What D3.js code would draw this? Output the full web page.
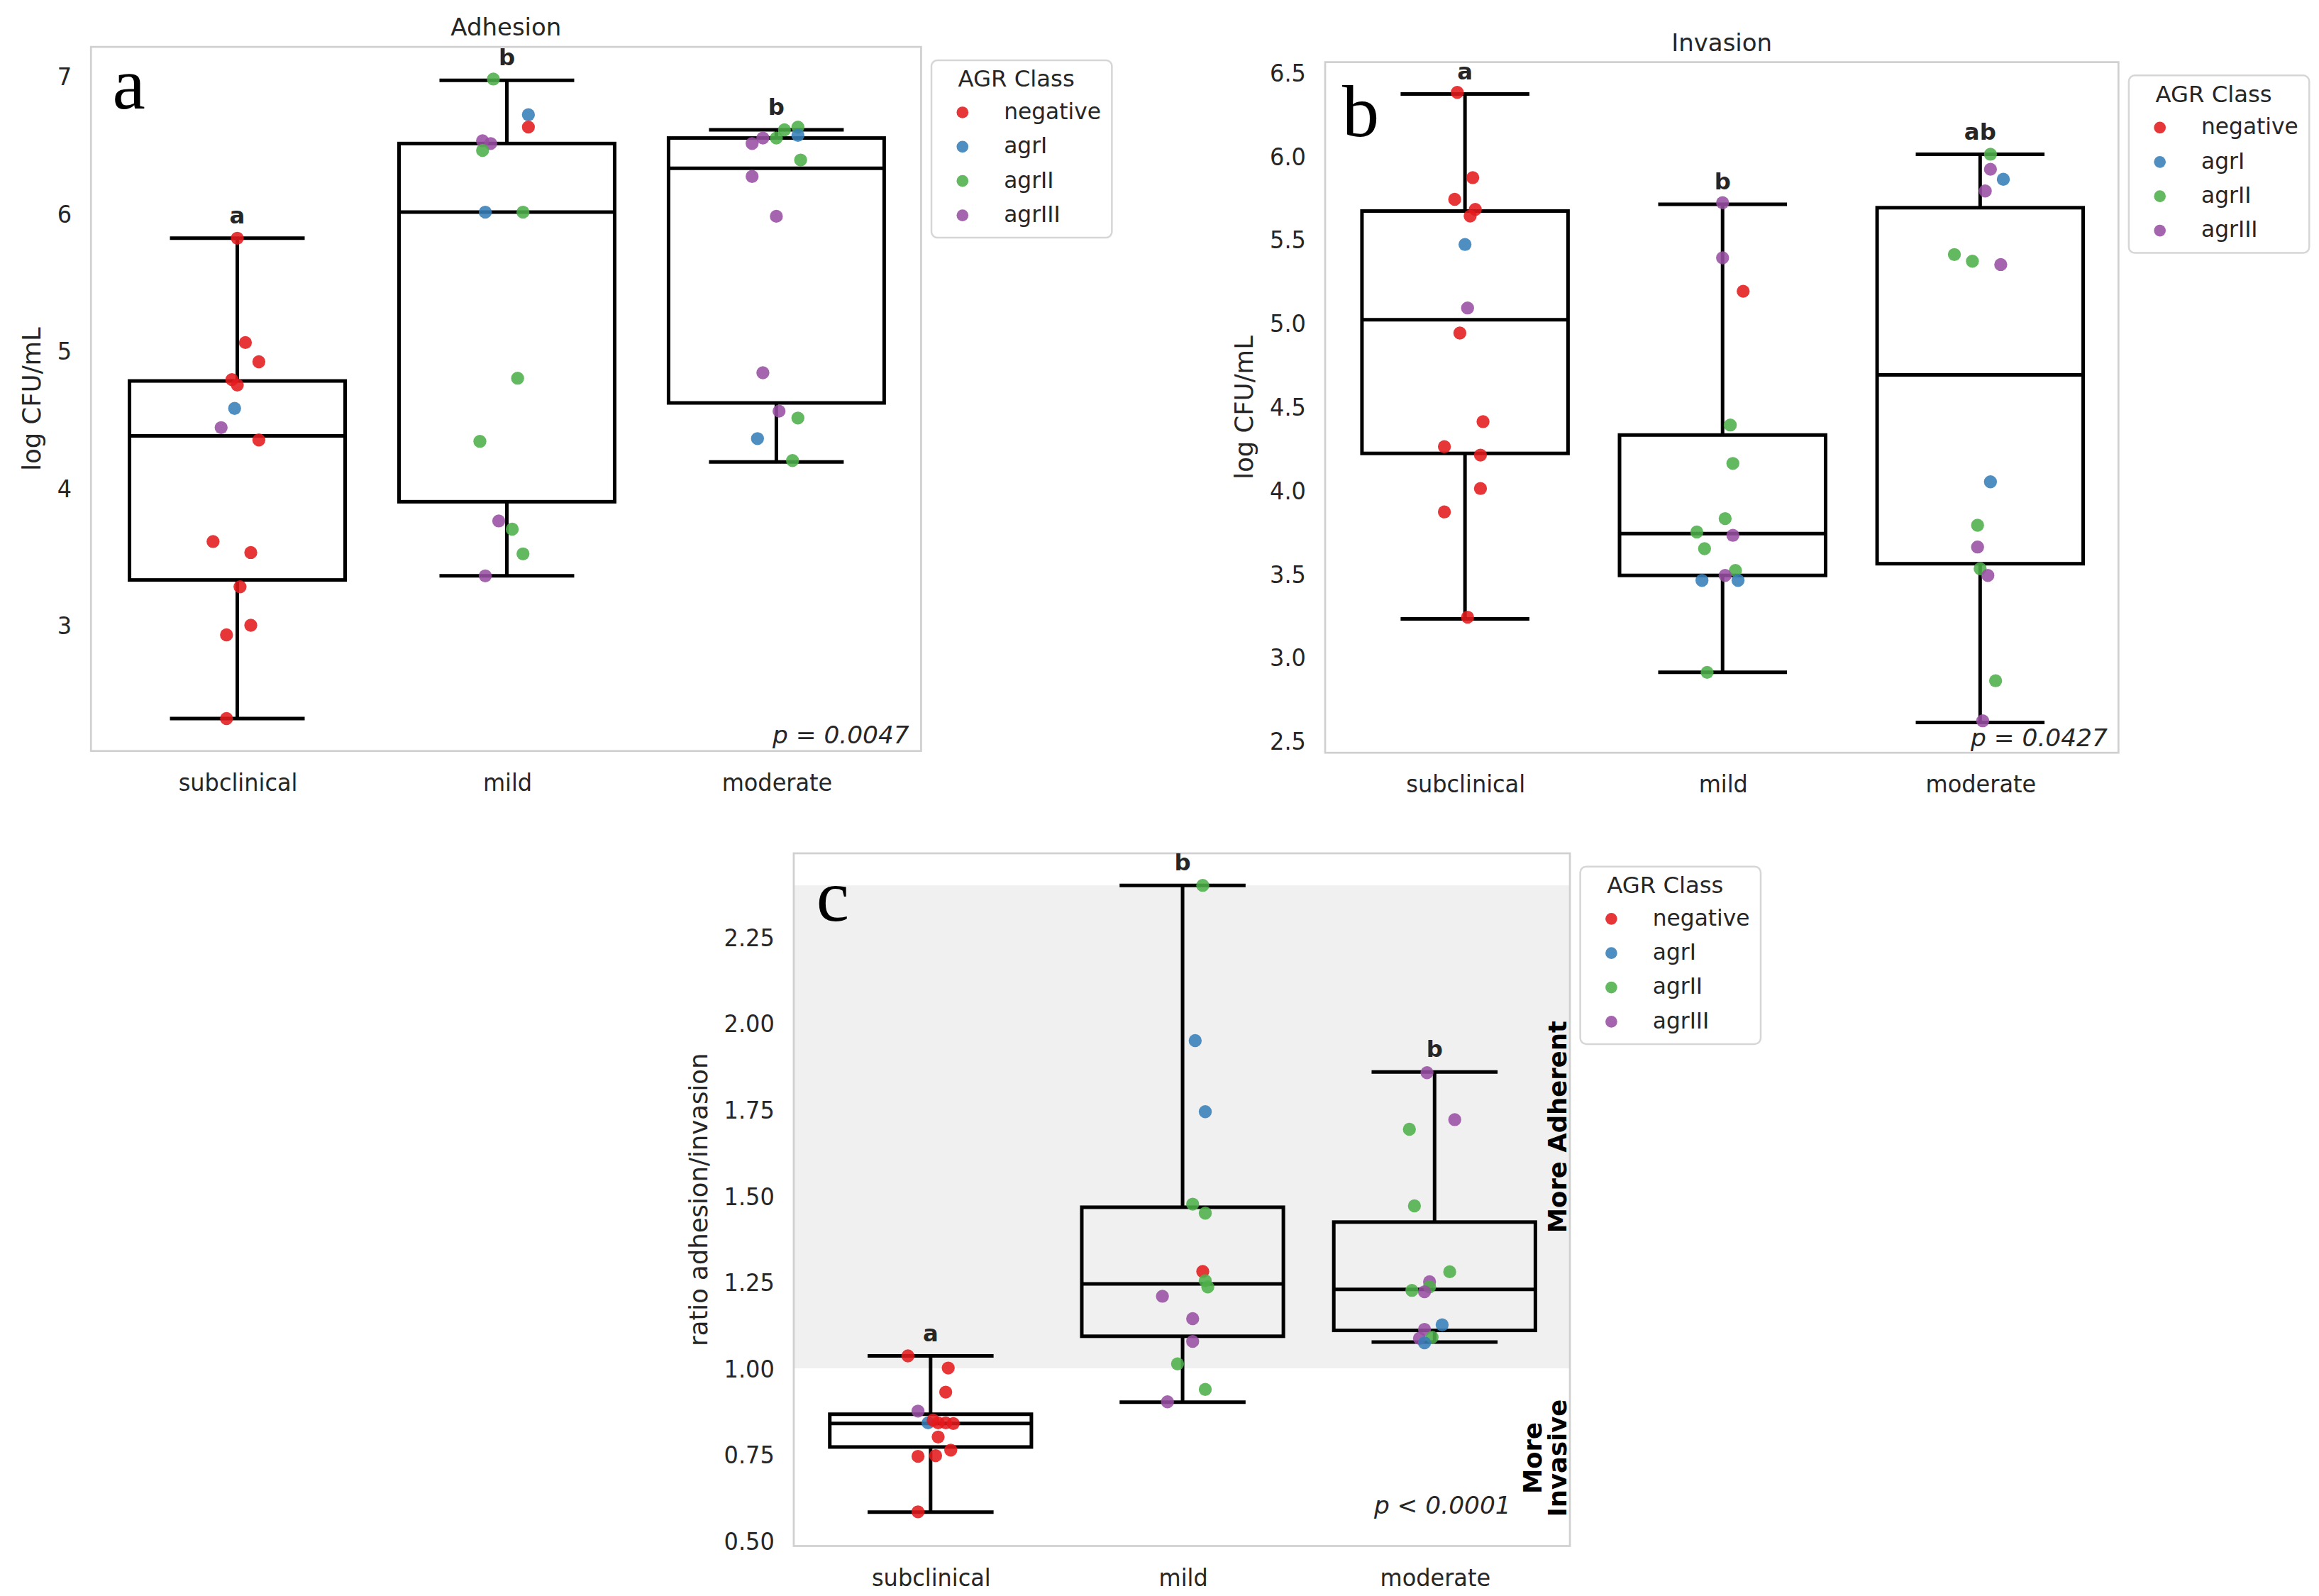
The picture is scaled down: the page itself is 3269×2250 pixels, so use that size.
<!DOCTYPE html>
<html>
<head>
<meta charset="utf-8">
<script src="https://cdn.jsdelivr.net/npm/d3@7"></script>
<style>
  body { margin: 0; background: #fff; }
</style>
</head>
<body>
<div id="chart"></div>
<script>
const categories = ["subclinical", "mild", "moderate"];
const agrClasses = ["negative", "agrI", "agrII", "agrIII"];
const agrColors = ["#e41a1c", "#377eb8", "#4daf4a", "#984ea3"];

// box stats per category: [low whisker, q1, median, q3, high whisker]
const adhesionBoxes = [[2.32, 3.33, 4.38, 4.78, 5.82], [3.36, 3.90, 6.01, 6.51, 6.97], [4.19, 4.62, 6.33, 6.55, 6.61]];
const invasionBoxes = [[3.23, 4.22, 5.02, 5.67, 6.37], [2.91, 3.49, 3.74, 4.33, 5.71], [2.61, 3.56, 4.69, 5.69, 6.01]];
const ratioBoxes = [[0.583, 0.772, 0.840, 0.867, 1.036], [0.902, 1.093, 1.245, 1.467, 2.40], [1.076, 1.110, 1.229, 1.424, 1.859]];

const adhesionTicks = [3, 4, 5, 6, 7];
const invasionTicks = [2.5, 3.0, 3.5, 4.0, 4.5, 5.0, 5.5, 6.0, 6.5];
const ratioTicks = [0.50, 0.75, 1.00, 1.25, 1.50, 1.75, 2.00, 2.25];

const adhesionLetters = ["a", "b", "b"];
const invasionLetters = ["a", "b", "ab"];
const ratioLetters = ["a", "b", "b"];

// band between ratio 1.0 and the top whisker ("more adherent" zone)
const ratioShade = [1.0, 2.40];

// [category, AGR class, value, jitter]
const adhesionPoints = [
  ["subclinical", "negative", 5.82, 0.00],
  ["subclinical", "negative", 5.06, 0.03],
  ["subclinical", "negative", 4.92, 0.08],
  ["subclinical", "negative", 4.79, -0.02],
  ["subclinical", "negative", 4.75, 0.00],
  ["subclinical", "agrI", 4.58, -0.01],
  ["subclinical", "agrIII", 4.44, -0.06],
  ["subclinical", "negative", 4.35, 0.08],
  ["subclinical", "negative", 3.61, -0.09],
  ["subclinical", "negative", 3.53, 0.05],
  ["subclinical", "negative", 3.28, 0.01],
  ["subclinical", "negative", 3.00, 0.05],
  ["subclinical", "negative", 2.93, -0.04],
  ["subclinical", "negative", 2.32, -0.04],
  ["mild", "agrII", 6.98, -0.05],
  ["mild", "agrI", 6.72, 0.08],
  ["mild", "negative", 6.63, 0.08],
  ["mild", "agrIII", 6.53, -0.09],
  ["mild", "agrIII", 6.51, -0.06],
  ["mild", "agrII", 6.46, -0.09],
  ["mild", "agrI", 6.01, -0.08],
  ["mild", "agrII", 6.01, 0.06],
  ["mild", "agrII", 4.80, 0.04],
  ["mild", "agrII", 4.34, -0.10],
  ["mild", "agrIII", 3.76, -0.03],
  ["mild", "agrII", 3.70, 0.02],
  ["mild", "agrII", 3.52, 0.06],
  ["mild", "agrIII", 3.36, -0.08],
  ["moderate", "agrII", 6.63, 0.08],
  ["moderate", "agrII", 6.61, 0.03],
  ["moderate", "agrIII", 6.51, -0.09],
  ["moderate", "agrIII", 6.55, -0.05],
  ["moderate", "agrII", 6.55, 0.00],
  ["moderate", "agrI", 6.57, 0.08],
  ["moderate", "agrII", 6.39, 0.09],
  ["moderate", "agrIII", 6.27, -0.09],
  ["moderate", "agrIII", 5.98, 0.00],
  ["moderate", "agrIII", 4.84, -0.05],
  ["moderate", "agrIII", 4.56, 0.01],
  ["moderate", "agrII", 4.51, 0.08],
  ["moderate", "agrI", 4.36, -0.07],
  ["moderate", "agrII", 4.20, 0.06]
];

const invasionPoints = [
  ["subclinical", "negative", 6.38, -0.03],
  ["subclinical", "negative", 5.87, 0.03],
  ["subclinical", "negative", 5.74, -0.04],
  ["subclinical", "negative", 5.68, 0.04],
  ["subclinical", "negative", 5.64, 0.02],
  ["subclinical", "agrI", 5.47, 0.00],
  ["subclinical", "agrIII", 5.09, 0.01],
  ["subclinical", "negative", 4.94, -0.02],
  ["subclinical", "negative", 4.41, 0.07],
  ["subclinical", "negative", 4.26, -0.08],
  ["subclinical", "negative", 4.21, 0.06],
  ["subclinical", "negative", 4.01, 0.06],
  ["subclinical", "negative", 3.87, -0.08],
  ["subclinical", "negative", 3.24, 0.01],
  ["mild", "agrIII", 5.72, 0.00],
  ["mild", "agrIII", 5.39, 0.00],
  ["mild", "negative", 5.19, 0.08],
  ["mild", "agrII", 4.39, 0.03],
  ["mild", "agrII", 4.16, 0.04],
  ["mild", "agrII", 3.83, 0.01],
  ["mild", "agrII", 3.75, -0.10],
  ["mild", "agrIII", 3.73, 0.04],
  ["mild", "agrII", 3.65, -0.07],
  ["mild", "agrII", 3.52, 0.05],
  ["mild", "agrIII", 3.49, 0.01],
  ["mild", "agrI", 3.46, -0.08],
  ["mild", "agrI", 3.46, 0.06],
  ["mild", "agrII", 2.91, -0.06],
  ["moderate", "agrII", 6.01, 0.04],
  ["moderate", "agrIII", 5.92, 0.04],
  ["moderate", "agrI", 5.86, 0.09],
  ["moderate", "agrIII", 5.79, 0.02],
  ["moderate", "agrII", 5.41, -0.10],
  ["moderate", "agrII", 5.37, -0.03],
  ["moderate", "agrIII", 5.35, 0.08],
  ["moderate", "agrI", 4.05, 0.04],
  ["moderate", "agrII", 3.79, -0.01],
  ["moderate", "agrIII", 3.66, -0.01],
  ["moderate", "agrII", 3.53, 0.00],
  ["moderate", "agrIII", 3.49, 0.03],
  ["moderate", "agrII", 2.86, 0.06],
  ["moderate", "agrIII", 2.62, 0.01]
];

const ratioPoints = [
  ["subclinical", "negative", 1.036, -0.09],
  ["subclinical", "negative", 1.001, 0.07],
  ["subclinical", "negative", 0.931, 0.06],
  ["subclinical", "agrIII", 0.876, -0.05],
  ["subclinical", "agrI", 0.842, -0.01],
  ["subclinical", "negative", 0.850, 0.01],
  ["subclinical", "negative", 0.842, 0.03],
  ["subclinical", "negative", 0.842, 0.06],
  ["subclinical", "negative", 0.840, 0.09],
  ["subclinical", "negative", 0.801, 0.03],
  ["subclinical", "negative", 0.763, 0.08],
  ["subclinical", "negative", 0.745, -0.05],
  ["subclinical", "negative", 0.747, 0.02],
  ["subclinical", "negative", 0.584, -0.05],
  ["mild", "agrII", 2.40, 0.08],
  ["mild", "agrI", 1.95, 0.05],
  ["mild", "agrI", 1.744, 0.09],
  ["mild", "agrII", 1.476, 0.04],
  ["mild", "agrII", 1.45, 0.09],
  ["mild", "negative", 1.281, 0.08],
  ["mild", "agrII", 1.254, 0.09],
  ["mild", "agrII", 1.236, 0.10],
  ["mild", "agrIII", 1.209, -0.08],
  ["mild", "agrIII", 1.144, 0.04],
  ["mild", "agrIII", 1.078, 0.04],
  ["mild", "agrII", 1.013, -0.02],
  ["mild", "agrII", 0.939, 0.09],
  ["mild", "agrIII", 0.903, -0.06],
  ["moderate", "agrIII", 1.857, -0.03],
  ["moderate", "agrIII", 1.721, 0.08],
  ["moderate", "agrII", 1.693, -0.10],
  ["moderate", "agrII", 1.471, -0.08],
  ["moderate", "agrII", 1.280, 0.06],
  ["moderate", "agrIII", 1.251, -0.02],
  ["moderate", "agrII", 1.226, -0.09],
  ["moderate", "agrII", 1.236, -0.02],
  ["moderate", "agrIII", 1.222, -0.04],
  ["moderate", "agrI", 1.126, 0.03],
  ["moderate", "agrIII", 1.113, -0.04],
  ["moderate", "agrIII", 1.087, -0.06],
  ["moderate", "agrII", 1.090, -0.01],
  ["moderate", "agrI", 1.074, -0.04]
];

const W = 1568, H = 1079.2;
const svg = d3.select("#chart").append("svg")
  .attr("width", 3269)
  .attr("height", 2250)
  .attr("viewBox", `0 0 ${W} ${H}`)
  .style("font-family", "'DejaVu Sans', sans-serif");

const color = d3.scaleOrdinal().domain(agrClasses).range(agrColors);
const ink = "#262626";
const tickSX = 0.93; // tick labels in the figure are slightly squeezed

function drawPanel(p) {
  const x = d3.scaleLinear().domain([-0.543, 2.537]).range([p.left, p.right]);
  const y = d3.scaleLinear().domain(p.yDomain).range([p.bottom, p.top]);
  const g = svg.append("g");

  if (p.shade) {
    g.append("rect")
      .attr("x", p.left).attr("width", p.right - p.left)
      .attr("y", y(p.shade[1])).attr("height", y(p.shade[0]) - y(p.shade[1]))
      .attr("fill", "#f0f0f0");
  }

  g.append("rect")
    .attr("x", p.left).attr("y", p.top)
    .attr("width", p.right - p.left).attr("height", p.bottom - p.top)
    .attr("fill", "none").attr("stroke", "#d0d0d0").attr("stroke-width", 1.3);

  // axes (no tick marks, seaborn style)
  const yAxis = g.append("g")
    .attr("transform", `translate(${p.left},0)`)
    .call(d3.axisLeft(y).tickValues(p.ticks).tickFormat(d3.format(p.fmt)).tickSize(0))
    .attr("font-family", "DejaVu Sans");
  yAxis.select(".domain").remove();
  yAxis.selectAll("text")
    .attr("font-size", 16.5).attr("fill", ink)
    .attr("x", -13 / tickSX).attr("dy", "0.34em")
    .attr("transform", `scale(${tickSX},1)`);

  const xAxis = g.append("g")
    .attr("transform", `translate(0,${p.bottom})`)
    .call(d3.axisBottom(x).tickValues([0, 1, 2]).tickFormat(i => categories[i]).tickSize(0))
    .attr("font-family", "DejaVu Sans");
  xAxis.select(".domain").remove();
  xAxis.selectAll("text")
    .attr("font-size", 16.5).attr("fill", ink)
    .attr("y", 27).attr("dy", 0)
    .attr("transform", `scale(${tickSX},1)`);

  let maxW = 0;
  yAxis.selectAll("text").each(function () { maxW = Math.max(maxW, this.getComputedTextLength() * tickSX); });
  const labelX = p.left - 13 - maxW - 11.5;
  g.append("text")
    .attr("transform", `translate(${labelX},${(p.top + p.bottom) / 2}) rotate(-90)`)
    .attr("text-anchor", "middle")
    .attr("font-size", 17).attr("fill", ink)
    .text(p.yLabel);

  if (p.title) {
    g.append("text")
      .attr("x", (p.left + p.right) / 2).attr("y", p.top - 7.7)
      .attr("text-anchor", "middle").attr("font-size", 16.3).attr("fill", ink)
      .text(p.title);
  }

  // boxes
  const boxW = 0.8, capW = 0.5;
  p.boxes.forEach((b, i) => {
    const [lo, q1, med, q3, hi] = b;
    const bg = g.append("g").attr("stroke", "#000").attr("stroke-width", 2.4).attr("fill", "none");
    bg.append("rect")
      .attr("x", x(i - boxW / 2)).attr("width", x(i + boxW / 2) - x(i - boxW / 2))
      .attr("y", y(q3)).attr("height", y(q1) - y(q3));
    bg.append("line").attr("x1", x(i - boxW / 2)).attr("x2", x(i + boxW / 2))
      .attr("y1", y(med)).attr("y2", y(med));
    bg.append("line").attr("x1", x(i)).attr("x2", x(i)).attr("y1", y(q3)).attr("y2", y(hi));
    bg.append("line").attr("x1", x(i)).attr("x2", x(i)).attr("y1", y(q1)).attr("y2", y(lo));
    bg.append("line").attr("x1", x(i - capW / 2)).attr("x2", x(i + capW / 2)).attr("y1", y(hi)).attr("y2", y(hi));
    bg.append("line").attr("x1", x(i - capW / 2)).attr("x2", x(i + capW / 2)).attr("y1", y(lo)).attr("y2", y(lo));

    g.append("text")
      .attr("x", x(i)).attr("y", y(hi) - 10)
      .attr("text-anchor", "middle").attr("font-size", 15.5).attr("font-weight", "bold")
      .attr("fill", ink)
      .text(p.letters[i]);
  });

  // jittered points
  g.append("g").selectAll("circle")
    .data(p.points)
    .join("circle")
    .attr("cx", d => x(categories.indexOf(d[0]) + d[3]))
    .attr("cy", d => y(d[2]))
    .attr("r", 4.4)
    .attr("fill", d => color(d[1]))
    .attr("fill-opacity", 0.88);

  // p-value
  g.append("text")
    .attr("x", p.right - p.pOffset[0]).attr("y", p.bottom - p.pOffset[1])
    .attr("text-anchor", "end").attr("font-size", 16.5).attr("font-style", "italic")
    .attr("fill", ink)
    .text(p.pText);

  // panel letter
  g.append("text")
    .attr("x", p.tag[0]).attr("y", p.tag[1])
    .style("font-family", "'Liberation Serif', serif")
    .attr("font-size", 50).attr("fill", "#000")
    .text(p.tagText);

  // legend
  const lg = g.append("g").attr("transform", `translate(${p.right + 7},${p.top + 9})`);
  lg.append("rect")
    .attr("width", 122).attr("height", 120).attr("rx", 4)
    .attr("fill", "#fff").attr("stroke", "#d6d6d6").attr("stroke-width", 1.2);
  lg.append("text").attr("x", 18).attr("y", 18)
    .attr("font-size", 15.5).attr("fill", ink).text("AGR Class");
  agrClasses.forEach((c, i) => {
    const by = 39.8 + i * 23.2;
    lg.append("circle").attr("cx", 21).attr("cy", by - 4.5).attr("r", 4)
      .attr("fill", color(c)).attr("fill-opacity", 0.88);
    lg.append("text").attr("x", 49).attr("y", by)
      .attr("font-size", 15).attr("fill", ink).text(c);
  });

  return { x, y, g };
}

drawPanel({
  left: 61.5, right: 622.8, top: 31.7, bottom: 507.8,
  yDomain: [2.084, 7.214], ticks: adhesionTicks, fmt: "d",
  yLabel: "log CFU/mL", title: "Adhesion",
  boxes: adhesionBoxes, points: adhesionPoints, letters: adhesionLetters,
  pText: "p = 0.0047", pOffset: [8, 5],
  tag: [76, 73.4], tagText: "a"
});

drawPanel({
  left: 896, right: 1432.4, top: 42, bottom: 509,
  yDomain: [2.429, 6.561], ticks: invasionTicks, fmt: ".1f",
  yLabel: "log CFU/mL", title: "Invasion",
  boxes: invasionBoxes, points: invasionPoints, letters: invasionLetters,
  pText: "p = 0.0427", pOffset: [7.4, 4.6],
  tag: [907.5, 92.3], tagText: "b"
});

const pc = drawPanel({
  left: 536.7, right: 1061.5, top: 577, bottom: 1045.4,
  yDomain: [0.485, 2.493], ticks: ratioTicks, fmt: ".2f",
  yLabel: "ratio adhesion/invasion", title: null, shade: ratioShade,
  boxes: ratioBoxes, points: ratioPoints, letters: ratioLetters,
  pText: "p < 0.0001", pOffset: [40, 22],
  tag: [552, 622.5], tagText: "c"
});

// side annotations of panel c
const sideX = 1059;
pc.g.append("text")
  .attr("transform", `translate(${sideX},${pc.y((ratioShade[0] + ratioShade[1]) / 2)}) rotate(-90)`)
  .attr("text-anchor", "middle").attr("font-size", 17).attr("font-weight", "bold")
  .attr("fill", "#000")
  .text("More Adherent");
const inv = pc.g.append("text")
  .attr("transform", `translate(${sideX},${pc.y(0.74)}) rotate(-90)`)
  .attr("text-anchor", "middle").attr("font-size", 17).attr("font-weight", "bold")
  .attr("fill", "#000");
inv.append("tspan").attr("x", 0).attr("y", -16.5).text("More");
inv.append("tspan").attr("x", 0).attr("y", 0).text("Invasive");
</script>
</body>
</html>
